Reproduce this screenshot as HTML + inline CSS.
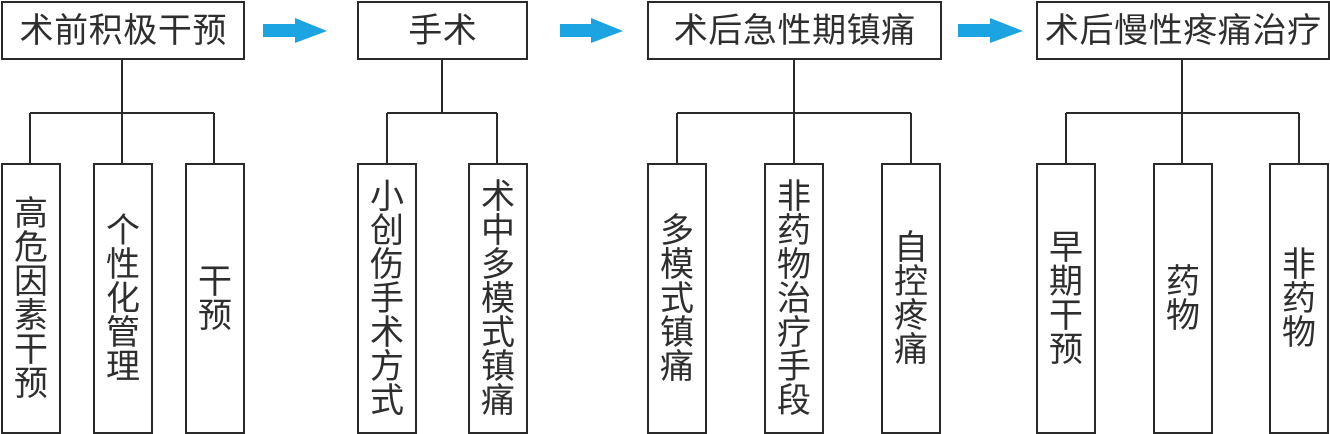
<!DOCTYPE html>
<html><head><meta charset="utf-8">
<style>
html,body{margin:0;padding:0;background:#fff;}
body{width:1330px;height:434px;position:relative;overflow:hidden;font-family:"Liberation Sans","Noto Sans CJK SC",sans-serif;color:#2e2e2e;}
.t{position:absolute;top:1px;height:59px;box-sizing:border-box;border:2px solid #2a2a2a;display:flex;align-items:center;justify-content:center;font-size:34px;letter-spacing:0.6px;white-space:nowrap;background:#fff;}
.t span{margin-right:-0.6px;line-height:34px;}
.c{position:absolute;top:163px;width:60px;height:271px;box-sizing:border-box;border:2px solid #2a2a2a;display:flex;align-items:center;justify-content:center;font-size:34px;line-height:34px;text-align:center;background:#fff;}
svg{position:absolute;left:0;top:0;}
</style></head><body>
<svg width="1330" height="434" viewBox="0 0 1330 434">
<g stroke="#2a2a2a" stroke-width="2" fill="none">
<path d="M122 60V113M30 113H214M30 113V163M122 113V163M214 113V163"/>
<path d="M442 60V113M387 113H497M387 113V163M497 113V163"/>
<path d="M794 60V113M677 113H911M677 113V163M794 113V163M911 113V163"/>
<path d="M1182 60V113M1066 113H1299M1066 113V163M1182 113V163M1299 113V163"/>
</g>
<g fill="#1ba3e2">
<path d="M263 24H295V18L327 31L295 43V37H263Z"/>
<path d="M560 24H591V18L623 31L591 43V37H560Z"/>
<path d="M958 24H990V18L1023 31L990 43V37H958Z"/>
</g>
</svg>
<div class="t" style="left:1px;width:244px;"><span>术前积极干预</span></div>
<div class="t" style="left:357px;width:171px;"><span>手术</span></div>
<div class="t" style="left:647px;width:295px;"><span>术后急性期镇痛</span></div>
<div class="t" style="left:1036px;width:294px;"><span>术后慢性疼痛治疗</span></div>

<div class="c" style="left:1px;">高<br>危<br>因<br>素<br>干<br>预</div>
<div class="c" style="left:93px;">个<br>性<br>化<br>管<br>理</div>
<div class="c" style="left:185px;">干<br>预</div>

<div class="c" style="left:357px;">小<br>创<br>伤<br>手<br>术<br>方<br>式</div>
<div class="c" style="left:468px;">术<br>中<br>多<br>模<br>式<br>镇<br>痛</div>

<div class="c" style="left:647px;">多<br>模<br>式<br>镇<br>痛</div>
<div class="c" style="left:764px;">非<br>药<br>物<br>治<br>疗<br>手<br>段</div>
<div class="c" style="left:881px;">自<br>控<br>疼<br>痛</div>

<div class="c" style="left:1036px;">早<br>期<br>干<br>预</div>
<div class="c" style="left:1153px;">药<br>物</div>
<div class="c" style="left:1269px;">非<br>药<br>物</div>
</body></html>
